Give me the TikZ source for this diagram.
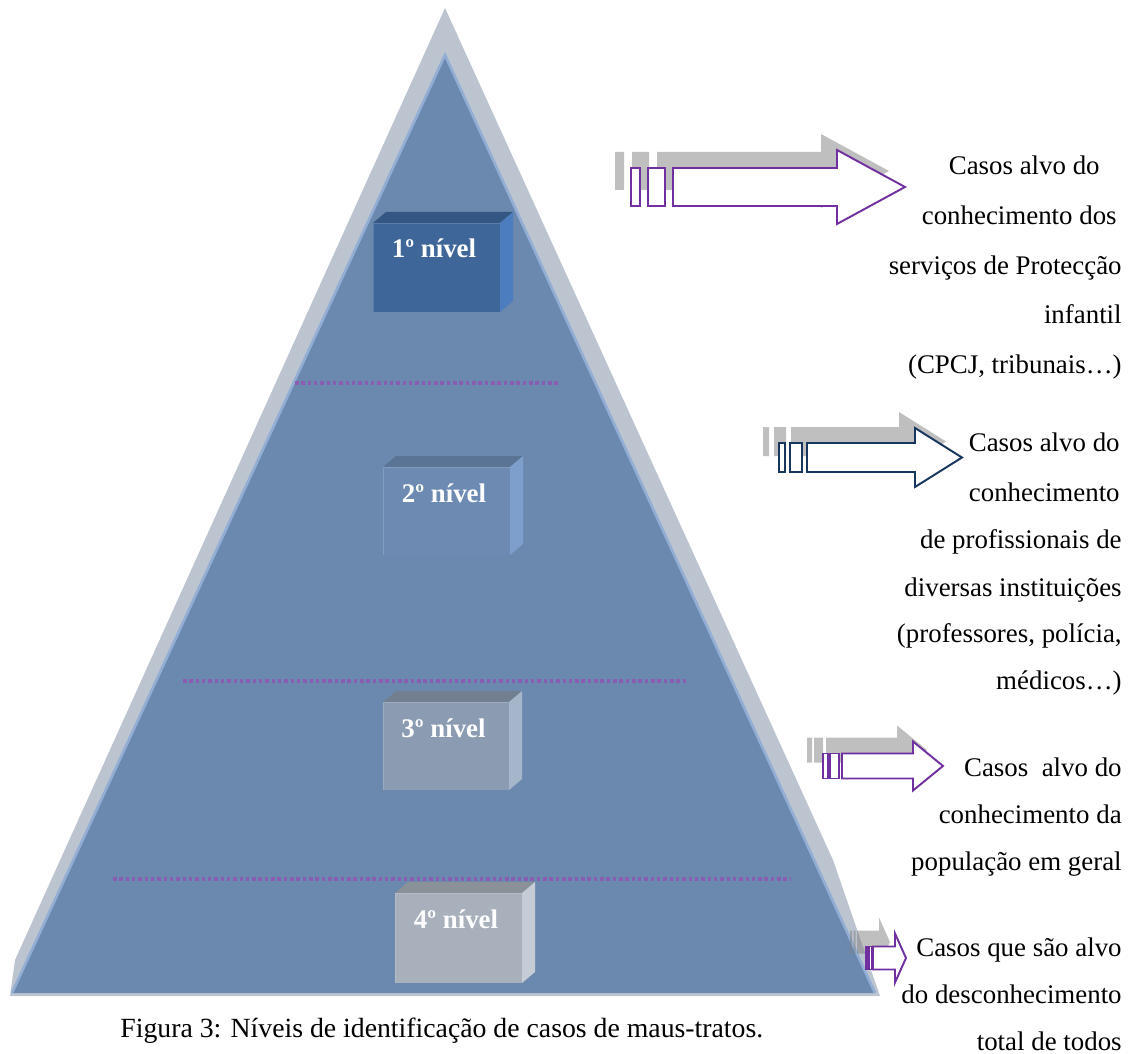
\documentclass[tikz,border=0pt]{standalone}
\usepackage{fontspec}
\setmainfont{Liberation Serif}
\definecolor{pyrback}{RGB}{188,196,208}
\definecolor{pyrfront}{RGB}{107,137,175}
\definecolor{pyredge}{RGB}{147,174,212}
\definecolor{sepviolet}{RGB}{138,92,178}
\definecolor{violetline}{RGB}{112,48,160}
\definecolor{navyline}{RGB}{23,54,93}
\definecolor{boxafront}{RGB}{63,102,153}
\definecolor{boxatop}{RGB}{52,86,130}
\definecolor{boxaside}{RGB}{76,125,190}
\definecolor{boxbfront}{RGB}{109,139,178}
\definecolor{boxbtop}{RGB}{90,116,149}
\definecolor{boxbside}{RGB}{126,159,203}
\definecolor{boxcfront}{RGB}{139,156,178}
\definecolor{boxctop}{RGB}{113,127,145}
\definecolor{boxcside}{RGB}{165,181,202}
\definecolor{boxdfront}{RGB}{168,176,188}
\definecolor{boxdtop}{RGB}{138,145,153}
\definecolor{boxdside}{RGB}{198,204,214}

% block arrow: body start, shaft end, tip, centre y, shaft half height, head half height, style
\newcommand\arrowbody[7]{%
  \path[#7] (#1,#4-#5) -- (#2,#4-#5) -- (#2,#4-#6) -- (#3,#4) -- (#2,#4+#6)
    -- (#2,#4+#5) -- (#1,#4+#5) -- cycle;}
% two thin bars in front of the arrow body
\newcommand\arrowtail[7]{%
  \path[#7] (#1,#5) rectangle (#2,#6) (#3,#5) rectangle (#4,#6);}
% 3D box: front corners, front/top/side colours, name, label
\newcommand\levelbox[9]{%
  \fill[#6] (#1,#2) -- (#1+13,#2-11) -- (#3+13,#2-11) -- (#3,#2) -- cycle;
  \fill[#7] (#3,#2) -- (#3+13,#2-11) -- (#3+13,#4-11) -- (#3,#4) -- cycle;
  \fill[#5] (#1,#2) rectangle (#3,#4);
  \draw[#5!85!white, line width=0.5pt] (#1,#4) -- (#1,#2) -- (#3,#2);
  \node[levellabel] (#8) at ({(#1+#3)/2-2.5},#2+35) {#9};}

\tikzset{
  sidetext/.style={anchor=base east, inner sep=0pt, font=\fontsize{15.3}{18}\selectfont},
  levellabel/.style={anchor=base, inner sep=0pt, text=white, font=\fontsize{15.3}{18}\selectfont\bfseries},
  sepline/.style={draw=sepviolet, line width=2pt, dash pattern=on 2pt off 1.6pt},
  shadowfill/.style={fill=black!50, fill opacity=0.5},
  arrowline/.style={draw=#1, fill=white, line width=1.1pt, line join=miter},
}

\begin{document}
\begin{tikzpicture}[x=0.02cm,y=-0.02cm]
\useasboundingbox (0,0) rectangle (1133,1054);

% pyramid: pale back face and blue front face
\fill[pyrback] (445,8) -- (833,860) -- (880,996) -- (10,996) -- (15,960) -- cycle;
\fill[pyrfront] (445,55) -- (875,993) -- (12,993) -- cycle;
\draw[pyredge, line width=1.5pt, line join=miter] (12,993) -- (445,55) -- (875,993);

% dotted separators between the levels
\draw[sepline] (295,383) -- (560,383);
\draw[sepline] (183,681) -- (688,681);
\draw[sepline] (113,879) -- (790,879);

% the four level boxes
\levelbox{373}{223}{500}{312}{boxafront}{boxatop}{boxaside}{lvl1}{1º nível}
\levelbox{383}{467}{510}{555}{boxbfront}{boxbtop}{boxbside}{lvl2}{2º nível}
\levelbox{383}{702}{509}{790}{boxcfront}{boxctop}{boxcside}{lvl3}{3º nível}
\levelbox{395}{893}{522}{983}{boxdfront}{boxdtop}{boxdside}{lvl4}{4º nível}

% arrows, each with its grey shadow
\begin{scope}[shift={(-16,-16)}]
  \arrowtail{631}{640}{648}{665}{168}{206}{shadowfill}
  \arrowbody{673}{837}{905}{187}{19}{37}{shadowfill}
  \arrowtail{779}{785}{790}{802}{443}{472}{shadowfill}
  \arrowbody{807}{915}{962}{457.5}{14.5}{29.5}{shadowfill}
  \arrowtail{823}{828}{830}{839}{753.5}{778.5}{shadowfill}
  \arrowbody{842}{913}{943}{766}{12.5}{24.5}{shadowfill}
  \arrowtail{866}{868}{869.5}{871.5}{946.5}{969.5}{shadowfill}
  \arrowbody{873}{895}{906}{958}{11.5}{24.5}{shadowfill}
\end{scope}
\arrowtail{631}{640}{648}{665}{168}{206}{arrowline=violetline}
\arrowbody{673}{837}{905}{187}{19}{37}{arrowline=violetline}
\arrowtail{779}{785}{790}{802}{443}{472}{arrowline=navyline}
\arrowbody{807}{915}{962}{457.5}{14.5}{29.5}{arrowline=navyline}
\arrowtail{823}{828}{830}{839}{753.5}{778.5}{arrowline=violetline}
\arrowbody{842}{913}{943}{766}{12.5}{24.5}{arrowline=violetline}
\arrowtail{866}{868}{869.5}{871.5}{946.5}{969.5}{arrowline=violetline}
\arrowbody{873}{895}{906}{958}{11.5}{24.5}{arrowline=violetline}

% texts beside the arrows
\node[sidetext] (ta1) at (1100,175) {Casos alvo do};
\node[sidetext] (ta2) at (1117,225) {conhecimento dos};
\node[sidetext] (ta3) at (1122,275) {serviços de Protecção};
\node[sidetext] (ta4) at (1122,324) {infantil};
\node[sidetext] (ta5) at (1122,374) {(CPCJ, tribunais…)};

\node[sidetext] (tb1) at (1120,451) {Casos alvo do};
\node[sidetext] (tb2) at (1120,501) {conhecimento};
\node[sidetext] (tb3) at (1122,548) {de profissionais de};
\node[sidetext] (tb4) at (1122,596) {diversas instituições};
\node[sidetext] (tb5) at (1122,642) {(professores, polícia,};
\node[sidetext] (tb6) at (1122,689) {médicos…)};

\node[sidetext] (tc1) at (1122,776) {Casos\ \ alvo do};
\node[sidetext] (tc2) at (1122,823) {conhecimento da};
\node[sidetext] (tc3) at (1122,870) {população em geral};

\node[sidetext] (td1) at (1122,956) {Casos que são alvo};
\node[sidetext] (td2) at (1122,1003) {do desconhecimento};
\node[sidetext] (td3) at (1122,1050) {total de todos};

% caption
\node[anchor=base west, inner sep=0pt, font=\fontsize{15.8}{19}\selectfont] (caption) at (120,1037)
  {Figura 3: Níveis de identificação de casos de maus-tratos.};
\end{tikzpicture}
\end{document}
